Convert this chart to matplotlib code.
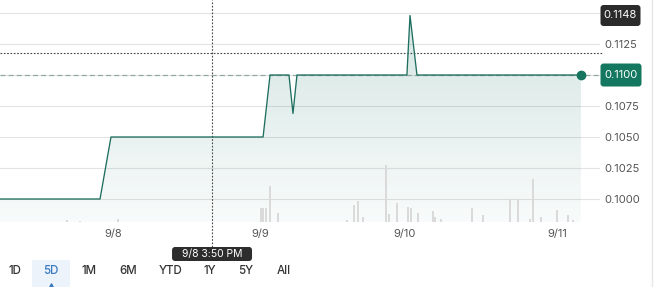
import numpy as np
import matplotlib
matplotlib.use("Agg")
import matplotlib.pyplot as plt
from matplotlib.patches import Polygon, FancyBboxPatch, Rectangle
from matplotlib.lines import Line2D
from matplotlib.transforms import IdentityTransform

plt.rcParams['font.family'] = ['Inter', 'DejaVu Sans']

# ---- data (x = trading-day position, 9/8 = 1.0) ----
price_t = [0.236, 0.912, 0.986, 2.014, 2.061, 2.189, 2.216, 2.243, 2.986, 3.007, 3.054, 4.162]
price_v = [0.1000, 0.1000, 0.1050, 0.1050, 0.1100, 0.1100, 0.1069, 0.1100, 0.1100, 0.1148, 0.1100, 0.1100]

vol_t = [0.689, 0.777, 1.034, 2.000, 2.014, 2.034, 2.061, 2.115, 2.581, 2.628, 2.655, 2.689,
         2.845, 2.865, 2.919, 2.993, 3.014, 3.061, 3.162, 3.176, 3.216, 3.426, 3.500, 3.682,
         3.736, 3.818, 3.838, 3.892, 4.000, 4.074, 4.108]
vol_v = [2, 1.5, 3, 14, 14, 14, 36, 9, 2, 17, 21, 5,
         57, 8, 19, 15, 14, 9, 11, 5, 3, 14, 7, 23,
         23, 3, 43, 5, 12, 7, 2]

tick_pos = [1.0, 1.993, 2.973, 4.0]
tick_labels = ['9/8', '9/9', '9/10', '9/11']
y_ticks = [0.1000, 0.1025, 0.1050, 0.1075, 0.1100, 0.1125, 0.1150]
ranges = ['1D', '5D', '1M', '6M', 'YTD', '1Y', '5Y', 'All']
active_range = '5D'
last_price = 0.1100
high_price = 0.1148
cross_t = 1.669
cross_v = 0.11177
cross_label = '9/8 3:50 PM'

# ---- figure ----
W, H = 658, 287
fig = plt.figure(figsize=(W / 100, H / 100), dpi=100)
fig.patch.set_facecolor('white')
rect = [0, (H - 222) / H, 600 / W, 222 / H]
ax = fig.add_axes(rect)
xmin, xmax = 0.236, 4.291
ymin, ymax = 0.098145, 0.11605

# gridlines
for yt in y_ticks:
    ax.axhline(yt, color='#e3e3e3', lw=0.8, zorder=0)

# gradient fill under line
teal = np.array([0.07, 0.45, 0.39])
n = 256
alpha = np.linspace(0.18, 0.03, n)
img = np.zeros((n, 1, 4))
img[:, 0, :3] = teal
img[:, 0, 3] = alpha
im = ax.imshow(img, extent=[xmin, xmax, ymin, high_price], aspect='auto',
               origin='upper', zorder=1, interpolation='bilinear')
verts = list(zip(price_t, price_v)) + [(price_t[-1], ymin), (price_t[0], ymin)]
poly = Polygon(verts, closed=True, facecolor='none', edgecolor='none', transform=ax.transData)
ax.add_patch(poly)
im.set_clip_path(poly)

# dashed last price line
ax.axhline(last_price, color='#8fa9a3', lw=0.9, ls=(0, (4, 2.5)), zorder=2)
# crosshair
ax.axvline(cross_t, ymin=-25 / 222, ymax=1, color='#444444', lw=0.8,
           ls=(0, (1.5, 1.5)), clip_on=False, zorder=3)
ax.axhline(cross_v, xmin=0, xmax=603 / 600, color='#444444', lw=0.8,
           ls=(0, (1.5, 1.5)), clip_on=False, zorder=3)

# price line
ax.plot(price_t, price_v, color='#1f6f60', lw=0.95, zorder=4)
ax.plot(price_t[-1], price_v[-1], 'o', ms=6, color='#17745f', zorder=5)

ax.set_xlim(xmin, xmax)
ax.set_ylim(ymin, ymax)
for s in ax.spines.values():
    s.set_visible(False)
ax.set_xticks(tick_pos, tick_labels)
ax.yaxis.tick_right()
ax.set_yticks(y_ticks, ['' if v in (last_price, 0.1150) else f'{v:.4f}' for v in y_ticks])
ax.tick_params(axis='both', length=0, labelsize=8, labelcolor='#555555')
ax.tick_params(axis='x', pad=5)
ax.tick_params(axis='y', pad=3)

# volume bars
vax = fig.add_axes(rect, sharex=ax)
vax.bar(vol_t, vol_v, width=0.016, color='#dadada', zorder=2)
vax.set_ylim(0, 222)
vax.axis('off')
vax.patch.set_visible(False)
vax.set_xlim(xmin, xmax)

fig.canvas.draw()

def ypix(v):
    return ax.transData.transform((xmin, v))[1]

def xpix(t):
    return ax.transData.transform((t, ymin))[0]

def label_box(cx, cy, w, h, text, fc, fs=8):
    p = FancyBboxPatch((cx - w / 2, cy - h / 2), w, h,
                       boxstyle='round,pad=0,rounding_size=3', fc=fc, ec='none',
                       transform=IdentityTransform(), zorder=10)
    fig.add_artist(p)
    fig.text(cx / W, cy / H, text, ha='center', va='center', color='white',
             fontsize=fs, zorder=11)

label_box(620.5, ypix(high_price), 40, 21, f'{high_price:.4f}', '#2b2b2b')
label_box(621, ypix(last_price), 41, 23, f'{last_price:.4f}', '#13785f')
label_box(xpix(cross_t), H - 254, 80, 14, cross_label, '#2d2d2d', fs=7.5)

# range buttons
btn_x = [15, 51, 89, 128, 171, 210, 246, 284]
for x, r in zip(btn_x, ranges):
    if r == active_range:
        fig.add_artist(Rectangle((x - 19, 0), 38, 27, transform=IdentityTransform(),
                                 fc='#edf3fa', ec='none', zorder=1))
        fig.add_artist(Line2D([x], [2], marker='^', ms=2.5, color='#3a78c2',
                              transform=IdentityTransform()))
        col = '#3a78c2'
    else:
        col = '#333333'
    fig.text(x / W, (H - 271) / H, r, ha='center', va='center', fontsize=8.3,
             color=col, fontweight='medium', zorder=2)

# right border
fig.add_artist(Line2D([652 / W, 652 / W], [0, 1], color='#e6e6e6', lw=1,
                      transform=fig.transFigure))

fig.savefig('out.png', dpi=100, facecolor='white')
